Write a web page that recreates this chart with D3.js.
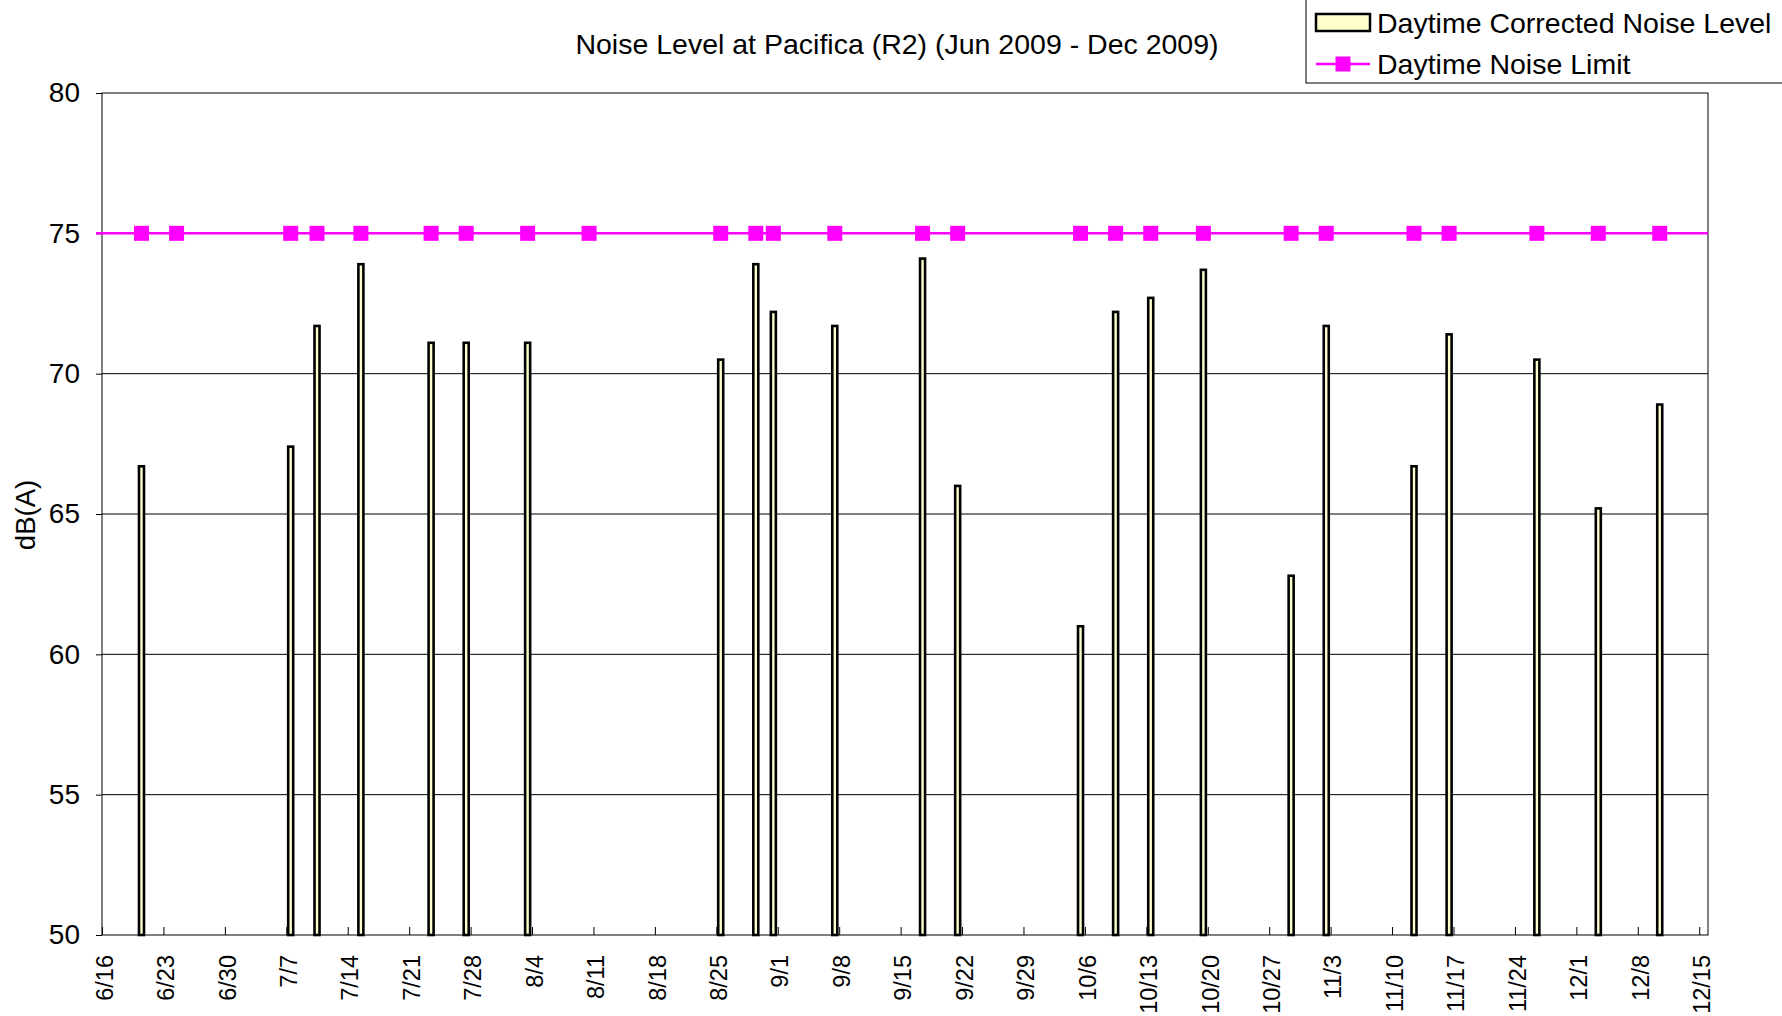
<!DOCTYPE html>
<html>
<head>
<meta charset="utf-8">
<script src="https://cdn.jsdelivr.net/npm/d3@7"></script>
<style>
  body { margin: 0; background: #fff; }
  svg { display: block; font-family: "Liberation Sans", Arial, sans-serif; }
</style>
</head>
<body>
<svg id="chart" width="1782" height="1016"></svg>
<script>
// measurement days and corrected daytime noise level, dB(A)
const barDates = [
  "2009-06-20", "2009-07-07", "2009-07-10", "2009-07-15", "2009-07-23", "2009-07-27",
  "2009-08-03", "2009-08-25", "2009-08-29", "2009-08-31", "2009-09-07", "2009-09-17",
  "2009-09-21", "2009-10-05", "2009-10-09", "2009-10-13", "2009-10-19", "2009-10-29",
  "2009-11-02", "2009-11-12", "2009-11-16", "2009-11-26", "2009-12-03", "2009-12-10"
];
const barValues = [
  66.7, 67.4, 71.7, 73.9, 71.1, 71.1,
  71.1, 70.5, 73.9, 72.2, 71.7, 74.1,
  66.0, 61.0, 72.2, 72.7, 73.7, 62.8,
  71.7, 66.7, 71.4, 70.5, 65.2, 68.9
];
// limit markers (includes two days without a reading)
const limitDates = [
  "2009-06-20", "2009-06-24", "2009-07-07", "2009-07-10", "2009-07-15", "2009-07-23",
  "2009-07-27", "2009-08-03", "2009-08-10", "2009-08-25", "2009-08-29", "2009-08-31",
  "2009-09-07", "2009-09-17", "2009-09-21", "2009-10-05", "2009-10-09", "2009-10-13",
  "2009-10-19", "2009-10-29", "2009-11-02", "2009-11-12", "2009-11-16", "2009-11-26",
  "2009-12-03", "2009-12-10"
];
const limitValue = 75;
const yTicks = [50, 55, 60, 65, 70, 75, 80];

const parse = d3.timeParse("%Y-%m-%d");
const svg = d3.select("#chart");

const plot = { left: 102, right: 1708, top: 93, bottom: 935 };

const x = d3.scaleTime()
  .domain([parse("2009-06-16"), parse("2009-12-16")])
  .range([plot.left, plot.right]);
const y = d3.scaleLinear().domain([50, 80]).range([plot.bottom, plot.top]);

// centre of a day's slot
const xc = (s) => x(d3.timeHour.offset(parse(s), 12));

// title
svg.append("text")
  .attr("x", 897).attr("y", 54)
  .attr("text-anchor", "middle")
  .attr("font-size", 28.5)
  .text("Noise Level at Pacifica (R2) (Jun 2009 - Dec 2009)");

// gridlines
svg.append("g")
  .selectAll("line")
  .data(yTicks.filter((v) => v > 50 && v < 80))
  .join("line")
  .attr("x1", plot.left).attr("x2", plot.right)
  .attr("y1", (d) => y(d)).attr("y2", (d) => y(d))
  .attr("stroke", "#000").attr("stroke-width", 1);

// y axis
const yAxis = svg.append("g")
  .attr("transform", `translate(${plot.left},0)`)
  .call(d3.axisLeft(y).tickValues(yTicks).tickSize(6).tickPadding(16));
yAxis.select(".domain").remove();
yAxis.selectAll("text").attr("font-size", 28).attr("fill", "#000")
  .style("font-family", "Liberation Sans, Arial, sans-serif");

// x axis, weekly ticks pointing inward
const xTicks = d3.timeTuesday.range(parse("2009-06-16"), parse("2009-12-16"));
const xAxis = svg.append("g")
  .attr("transform", `translate(0,${plot.bottom})`)
  .call(d3.axisBottom(x).tickValues(xTicks).tickFormat(d3.timeFormat("%-m/%-d")).tickSize(-8));
xAxis.select(".domain").remove();
xAxis.selectAll("text")
  .attr("transform", "rotate(-90)")
  .attr("text-anchor", "end")
  .attr("x", -20).attr("y", 2).attr("dy", "0.35em")
  .attr("font-size", 23.5).attr("fill", "#000")
  .style("font-family", "Liberation Sans, Arial, sans-serif");

// bars
const barW = 5;
svg.append("g")
  .selectAll("rect")
  .data(barDates.map((d, i) => ({ date: d, value: barValues[i] })))
  .join("rect")
  .attr("x", (d) => xc(d.date) - barW / 2)
  .attr("y", (d) => y(d.value))
  .attr("width", barW)
  .attr("height", (d) => plot.bottom - y(d.value))
  .attr("fill", "#FFFFCC")
  .attr("stroke", "#000")
  .attr("stroke-width", 2.6);

// plot border
svg.append("rect")
  .attr("x", plot.left).attr("y", plot.top)
  .attr("width", plot.right - plot.left).attr("height", plot.bottom - plot.top)
  .attr("fill", "none").attr("stroke", "#000").attr("stroke-width", 1);

// limit line
svg.append("line")
  .attr("x1", plot.left - 6).attr("x2", plot.right)
  .attr("y1", y(limitValue)).attr("y2", y(limitValue))
  .attr("stroke", "#FF00FF").attr("stroke-width", 2.5);

const mk = 15;
svg.append("g")
  .selectAll("rect")
  .data(limitDates)
  .join("rect")
  .attr("x", (d) => xc(d) - mk / 2)
  .attr("y", y(limitValue) - mk / 2)
  .attr("width", mk).attr("height", mk)
  .attr("fill", "#FF00FF");

// y axis title
svg.append("text")
  .attr("transform", `translate(35,515) rotate(-90)`)
  .attr("text-anchor", "middle")
  .attr("font-size", 27.5)
  .text("dB(A)");

// legend
const lg = svg.append("g");
lg.append("rect")
  .attr("x", 1306).attr("y", -1).attr("width", 490).attr("height", 84)
  .attr("fill", "#fff").attr("stroke", "#000").attr("stroke-width", 1);
lg.append("rect")
  .attr("x", 1316).attr("y", 14).attr("width", 54).attr("height", 17)
  .attr("fill", "#FFFFCC").attr("stroke", "#000").attr("stroke-width", 2.5);
lg.append("text")
  .attr("x", 1377).attr("y", 23).attr("dy", "0.35em")
  .attr("font-size", 28.5)
  .text("Daytime Corrected Noise Level");
lg.append("line")
  .attr("x1", 1316).attr("x2", 1370).attr("y1", 64).attr("y2", 64)
  .attr("stroke", "#FF00FF").attr("stroke-width", 2.5);
lg.append("rect")
  .attr("x", 1343 - mk / 2).attr("y", 64 - mk / 2).attr("width", mk).attr("height", mk)
  .attr("fill", "#FF00FF");
lg.append("text")
  .attr("x", 1377).attr("y", 64).attr("dy", "0.35em")
  .attr("font-size", 28.5)
  .text("Daytime Noise Limit");
</script>
</body>
</html>
